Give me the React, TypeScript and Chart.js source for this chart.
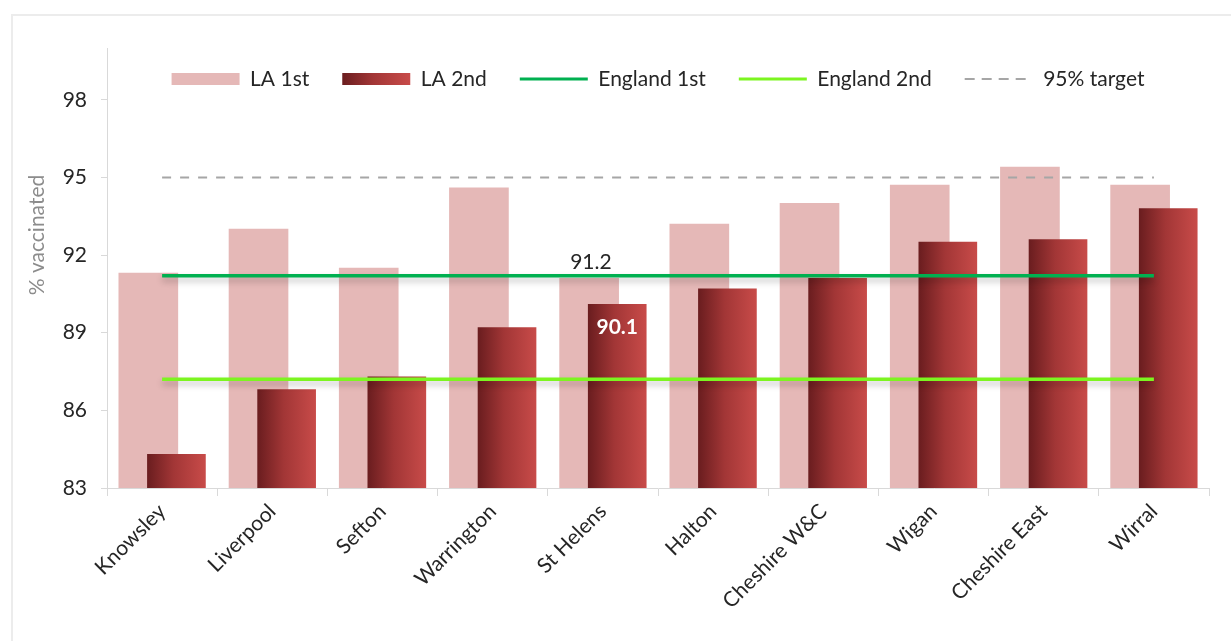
import React, { useEffect, useRef } from 'react';
import { Chart, registerables } from 'chart.js';

Chart.register(...registerables);

// ---------- data ----------
const categories = [
  'Knowsley',
  'Liverpool',
  'Sefton',
  'Warrington',
  'St Helens',
  'Halton',
  'Cheshire W&C',
  'Wigan',
  'Cheshire East',
  'Wirral',
];
const laFirst = [91.3, 93.0, 91.5, 94.6, 91.1, 93.2, 94.0, 94.7, 95.4, 94.7];
const laSecond = [84.3, 86.8, 87.3, 89.2, 90.1, 90.7, 91.1, 92.5, 92.6, 93.8];
const englandFirst = 91.2;
const englandSecond = 87.2;
const targetValue = 95;
const yTickValues = [83, 86, 89, 92, 95, 98];
const yMin = 83;
const yMax = 100;
const seriesNames = ['LA 1st', 'LA 2nd', 'England 1st', 'England 2nd', '95% target'];
const yTitle = '% vaccinated';
const labelledIndex = 4; // St Helens carries the data labels

// ---------- styling ----------
const FONT = 'Lato';
const PINK = '#e5b8b7';
const GREEN = '#00b050';
const LIME = '#7cf520';
const GREY = '#a6a6a6';
const TEXT = '#262626';
const AXIS = '#d9d9d9';
const PINK_OFF = -0.125;
const DARK_OFF = 0.13;
const PINK_W = 59;
const DARK_W = 58;
const LEG_PAD = 33;
const LEG_FONT = 21;
const LEG_CENTER_Y = 79;
const LEG_BOX_W = 68;

function darkGradient(ctx: CanvasRenderingContext2D, x0: number, x1: number) {
  const g = ctx.createLinearGradient(x0, 0, x1, 0);
  g.addColorStop(0, '#6a1d1f');
  g.addColorStop(0.45, '#a23636');
  g.addColorStop(1, '#c84b49');
  return g;
}

const darkFill = (c: any) => {
  const chart = c.chart;
  const xs = chart.scales && chart.scales.xb;
  if (!xs || c.type !== 'data' || !c.raw) return '#a53a3a';
  const cx = xs.getPixelForValue(c.raw.x);
  return darkGradient(chart.ctx, cx - DARK_W / 2, cx + DARK_W / 2);
};

const extrasPlugin = {
  id: 'extras',
  beforeDraw(chart: any) {
    const lg = chart.legend;
    if (lg && lg.legendItems && lg.legendHitBoxes) {
      const top = LEG_CENTER_Y - LEG_FONT / 2 - LEG_PAD;
      lg.top = top;
      lg.bottom = top + 70;
      const hb = lg.legendHitBoxes[1];
      if (hb && lg.legendItems[1]) {
        lg.legendItems[1].fillStyle = darkGradient(chart.ctx, hb.left, hb.left + LEG_BOX_W);
      }
    }
  },
  beforeDatasetDraw(chart: any, args: any) {
    const ds = chart.data.datasets[args.index];
    if (ds && ds.shadow) {
      const ctx = chart.ctx;
      ctx.save();
      ctx.shadowColor = 'rgba(0,0,0,0.25)';
      ctx.shadowBlur = 6;
      ctx.shadowOffsetY = 4;
    }
  },
  afterDatasetDraw(chart: any, args: any) {
    const ds = chart.data.datasets[args.index];
    if (ds && ds.shadow) chart.ctx.restore();
  },
  afterDatasetsDraw(chart: any) {
    const ctx = chart.ctx;
    const x = chart.scales.x;
    const xb = chart.scales.xb;
    const y = chart.scales.y;
    ctx.save();
    ctx.font = `21px ${FONT}`;
    ctx.fillStyle = TEXT;
    ctx.textAlign = 'center';
    ctx.textBaseline = 'bottom';
    ctx.fillText(
      englandFirst.toFixed(1),
      x.getPixelForValue(labelledIndex) - 12,
      y.getPixelForValue(englandFirst) - 3
    );
    ctx.font = `bold 21px ${FONT}`;
    ctx.fillStyle = '#ffffff';
    ctx.textBaseline = 'middle';
    ctx.fillText(
      laSecond[labelledIndex].toFixed(1),
      xb.getPixelForValue(labelledIndex + DARK_OFF),
      y.getPixelForValue(laSecond[labelledIndex]) + 23
    );
    ctx.restore();
  },
  afterDraw(chart: any) {
    const ctx = chart.ctx;
    ctx.save();
    ctx.translate(37, 235);
    ctx.rotate(-Math.PI / 2);
    ctx.font = `21px ${FONT}`;
    ctx.fillStyle = '#8c8c8c';
    ctx.textAlign = 'center';
    ctx.textBaseline = 'middle';
    ctx.fillText(yTitle, 0, 0);
    ctx.restore();
  },
};

export default function App() {
  const canvasRef = useRef<HTMLCanvasElement | null>(null);

  useEffect(() => {
    const canvas = canvasRef.current;
    if (!canvas) return;

    const chart = new Chart(canvas, {
      type: 'bar',
      data: {
        labels: categories,
        datasets: [
          {
            type: 'bar',
            label: seriesNames[0],
            data: laFirst.map((v, i) => ({ x: i + PINK_OFF, y: v })),
            xAxisID: 'xb',
            yAxisID: 'y',
            grouped: false,
            barThickness: PINK_W,
            backgroundColor: PINK,
            borderWidth: 0,
            order: 3,
          } as any,
          {
            type: 'bar',
            label: seriesNames[1],
            data: laSecond.map((v, i) => ({ x: i + DARK_OFF, y: v })),
            xAxisID: 'xb',
            yAxisID: 'y',
            grouped: false,
            barThickness: DARK_W,
            backgroundColor: darkFill,
            borderWidth: 0,
            order: 2,
          } as any,
          {
            type: 'line',
            label: seriesNames[2],
            data: categories.map(() => englandFirst),
            xAxisID: 'x',
            yAxisID: 'y',
            borderColor: GREEN,
            borderWidth: 3.5,
            pointRadius: 0,
            fill: false,
            shadow: true,
            order: 1,
          } as any,
          {
            type: 'line',
            label: seriesNames[3],
            data: categories.map(() => englandSecond),
            xAxisID: 'x',
            yAxisID: 'y',
            borderColor: LIME,
            borderWidth: 3.5,
            pointRadius: 0,
            fill: false,
            shadow: true,
            order: 1,
          } as any,
          {
            type: 'line',
            label: seriesNames[4],
            data: categories.map(() => targetValue),
            xAxisID: 'x',
            yAxisID: 'y',
            borderColor: GREY,
            borderWidth: 2,
            borderDash: [9, 9],
            pointRadius: 0,
            fill: false,
            order: 1,
          } as any,
        ],
      },
      options: {
        responsive: false,
        animation: false,
        events: [],
        layout: { padding: { left: 0, right: 22, top: 0, bottom: 0 } },
        scales: {
          x: {
            type: 'category',
            position: 'bottom',
            offset: true,
            grid: {
              offset: true,
              drawOnChartArea: false,
              drawTicks: true,
              tickLength: 8,
              color: AXIS,
            },
            border: { display: true, color: AXIS, width: 1 },
            ticks: {
              autoSkip: false,
              maxRotation: 45,
              minRotation: 45,
              padding: 3,
              color: TEXT,
              font: { family: FONT, size: 21 },
            },
            afterFit: (s: any) => {
              s.height = 153;
            },
          },
          xb: {
            type: 'linear',
            axis: 'x',
            position: 'bottom',
            display: false,
            offset: false,
            bounds: 'data',
            min: -0.5,
            max: 9.5,
            grid: { offset: false },
          },
          y: {
            type: 'linear',
            position: 'left',
            min: yMin,
            max: yMax,
            beginAtZero: false,
            grid: {
              drawOnChartArea: false,
              drawTicks: true,
              tickLength: 6,
              color: AXIS,
            },
            border: { display: true, color: AXIS, width: 1 },
            ticks: {
              stepSize: 3,
              padding: 14,
              color: TEXT,
              font: { family: FONT, size: 21 },
            },
            afterBuildTicks: (s: any) => {
              s.ticks = yTickValues.map((v) => ({ value: v }));
            },
            afterFit: (s: any) => {
              s.width = 107;
            },
          },
        } as any,
        plugins: {
          tooltip: { enabled: false },
          legend: {
            display: true,
            position: 'top',
            align: 'center',
            fullSize: false,
            maxHeight: 48,
            labels: {
              usePointStyle: true,
              pointStyleWidth: LEG_BOX_W,
              boxWidth: LEG_BOX_W,
              boxHeight: 12,
              padding: LEG_PAD,
              color: TEXT,
              font: { family: FONT, size: LEG_FONT },
              generateLabels: () => [
                {
                  text: seriesNames[0],
                  fillStyle: PINK,
                  strokeStyle: PINK,
                  lineWidth: 0,
                  pointStyle: 'rect',
                  hidden: false,
                  datasetIndex: 0,
                  fontColor: TEXT,
                },
                {
                  text: seriesNames[1],
                  fillStyle: '#a53a3a',
                  strokeStyle: '#a53a3a',
                  lineWidth: 0,
                  pointStyle: 'rect',
                  hidden: false,
                  datasetIndex: 1,
                  fontColor: TEXT,
                },
                {
                  text: seriesNames[2],
                  fillStyle: 'rgba(0,0,0,0)',
                  strokeStyle: GREEN,
                  lineWidth: 3,
                  pointStyle: 'line',
                  hidden: false,
                  datasetIndex: 2,
                  fontColor: TEXT,
                },
                {
                  text: seriesNames[3],
                  fillStyle: 'rgba(0,0,0,0)',
                  strokeStyle: LIME,
                  lineWidth: 3,
                  pointStyle: 'line',
                  hidden: false,
                  datasetIndex: 3,
                  fontColor: TEXT,
                },
                {
                  text: seriesNames[4],
                  fillStyle: 'rgba(0,0,0,0)',
                  strokeStyle: GREY,
                  lineWidth: 2,
                  lineDash: [10, 7],
                  pointStyle: 'line',
                  hidden: false,
                  datasetIndex: 4,
                  fontColor: TEXT,
                },
              ],
            },
          } as any,
        },
      },
      plugins: [extrasPlugin],
    });

    return () => {
      chart.destroy();
    };
  }, []);

  return (
    <div
      style={{
        position: 'fixed',
        left: 0,
        top: 0,
        width: 1231,
        height: 641,
        background: '#ffffff',
        overflow: 'hidden',
      }}
    >
      <div
        style={{
          position: 'absolute',
          left: 11,
          top: 14,
          right: -4,
          bottom: -4,
          borderLeft: '2px solid #ececec',
          borderTop: '2px solid #ececec',
        }}
      />
      <canvas
        ref={canvasRef}
        width={1231}
        height={641}
        style={{ position: 'absolute', left: 0, top: 0, display: 'block' }}
      />
    </div>
  );
}
